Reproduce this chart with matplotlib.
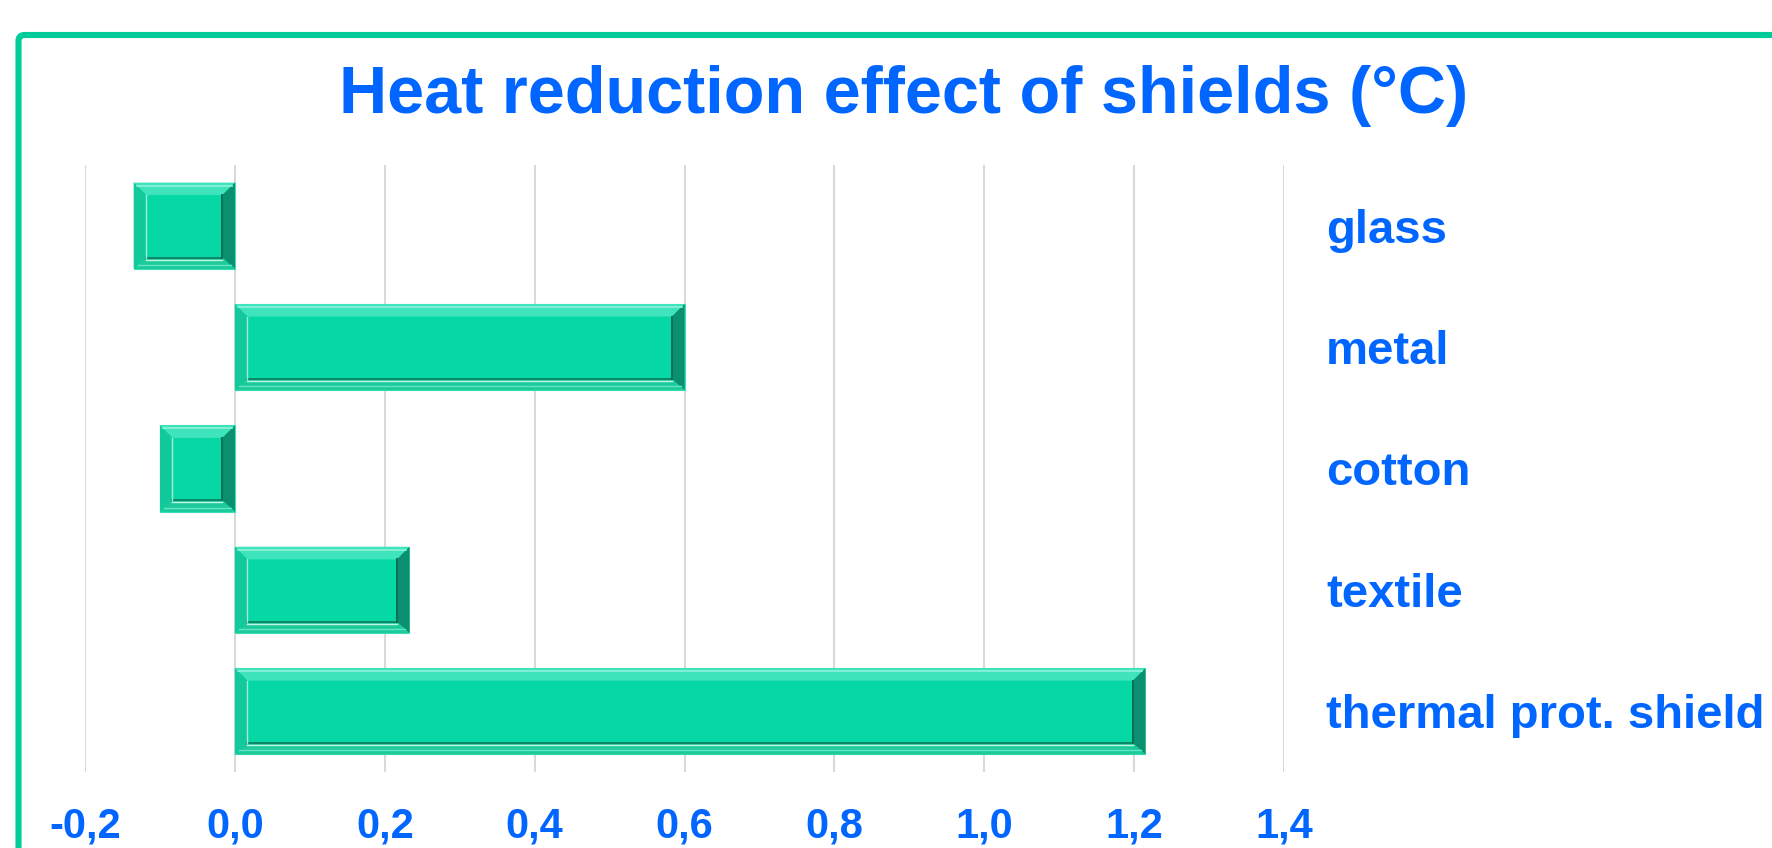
import matplotlib
matplotlib.use("Agg")
import matplotlib.pyplot as plt
from matplotlib.patches import Polygon, FancyBboxPatch
from matplotlib.transforms import IdentityTransform, blended_transform_factory, ScaledTranslation

categories = ["glass", "metal", "cotton", "textile", "thermal prot. shield"]
values = [-0.135, 0.60, -0.10, 0.233, 1.215]
xticks = [-0.2, 0.0, 0.2, 0.4, 0.6, 0.8, 1.0, 1.2, 1.4]
xticklabels = ["-0,2", "0,0", "0,2", "0,4", "0,6", "0,8", "1,0", "1,2", "1,4"]
title = "Heat reduction effect of shields (°C)"

BLUE = "#0066FF"
FACE = "#05D8A5"
FRAME = "#00CC99"
GRID = "#D9D9D9"

plt.rcParams['font.family'] = ['Liberation Sans', 'DejaVu Sans']

W, H = 1772, 848
fig = plt.figure(figsize=(W / 100, H / 100), dpi=100)
fig.patch.set_facecolor("white")

# frame (extends beyond the right and bottom edges)
frame = FancyBboxPatch((18.5, -60), W + 50, H - 35 + 60, boxstyle="round,pad=0,rounding_size=6",
                       transform=IdentityTransform(), facecolor="none",
                       edgecolor=FRAME, linewidth=4.4, zorder=0)
fig.patches.append(frame)

ax = fig.add_axes([85 / W, (H - 772) / H, 1199 / W, 607 / H])
ax.set_xlim(-0.2, 1.4)
ax.set_ylim(len(categories) - 0.5, -0.5)
ax.set_xticks(xticks)
ax.set_xticklabels(xticklabels, fontsize=30, fontweight="bold", color=BLUE)
ax.set_yticks([])
ax.tick_params(axis="x", length=0, pad=25)
for s in ax.spines.values():
    s.set_visible(False)
ax.grid(axis="x", color=GRID, linewidth=1.5)
ax.set_axisbelow(True)

ypos = list(range(len(categories)))
bars = ax.barh(ypos, values, height=0.71, color=FACE, edgecolor="#3FDDB5", linewidth=0.8, zorder=2)

fig.canvas.draw()
bw = 12.5
for b in bars:
    bb = b.get_bbox()
    (x0, y0), (x1, y1) = ax.transData.transform([(bb.x0, bb.y0), (bb.x1, bb.y1)])
    xl, xr = min(x0, x1), max(x0, x1)
    yb, yt = min(y0, y1), max(y0, y1)
    ixl, ixr, iyb, iyt = xl + bw, xr - bw, yb + bw * 0.9, yt - bw
    tr = IdentityTransform()
    polys = [
        ([(xl, yt), (xr, yt), (ixr, iyt), (ixl, iyt)], "#3FE3BC"),   # top
        ([(xl, yb), (xl, yt), (ixl, iyt), (ixl, iyb)], "#12C99B"),   # left
        ([(xr, yb), (xr, yt), (ixr, iyt), (ixr, iyb)], "#0C8F6F"),   # right
        ([(xl, yb), (xr, yb), (ixr, iyb), (ixl, iyb)], "#1EC99A"),   # bottom
    ]
    for pts, c in polys:
        ax.add_patch(Polygon(pts, closed=True, transform=tr, facecolor=c,
                             edgecolor="none", zorder=3, clip_on=False))
    ax.plot([xl + 3, xr - 3], [yt - 3, yt - 3], transform=tr, color="#8FF2D8",
            linewidth=1.2, zorder=4, clip_on=False)
    ax.plot([xl + 4, xr - 4], [yb + 4, yb + 4], transform=tr, color="#5FE6C4",
            linewidth=1.0, zorder=4, clip_on=False)
    ax.plot([ixl, ixr], [iyb - 2, iyb - 2], transform=tr, color="#BFF5E6",
            linewidth=1.0, zorder=4, clip_on=False)
    ax.plot([ixl, ixr], [iyb, iyb], transform=tr, color="#0A7A5E",
            linewidth=1.2, zorder=4, clip_on=False)
    ax.plot([ixr, ixr], [iyb, iyt], transform=tr, color="#0A6F56",
            linewidth=1.4, zorder=4, clip_on=False)
    ax.plot([ixl, ixl], [iyb, iyt], transform=tr, color="#9EEFD9",
            linewidth=1.0, zorder=4, clip_on=False)

trans = blended_transform_factory(ax.transAxes, ax.transData) + \
    ScaledTranslation(0, -5 / 100, fig.dpi_scale_trans)
for y, name in zip(ypos, categories):
    ax.text((1326 - 85) / 1199, y, name, transform=trans, ha="left", va="center",
            fontsize=34, fontweight="bold", color=BLUE, clip_on=False)

fig.text(904 / W, 1 - 96 / H, title, ha="center", va="center", fontsize=48,
         fontweight="bold", color=BLUE)

fig.savefig("out.png", dpi=100)
